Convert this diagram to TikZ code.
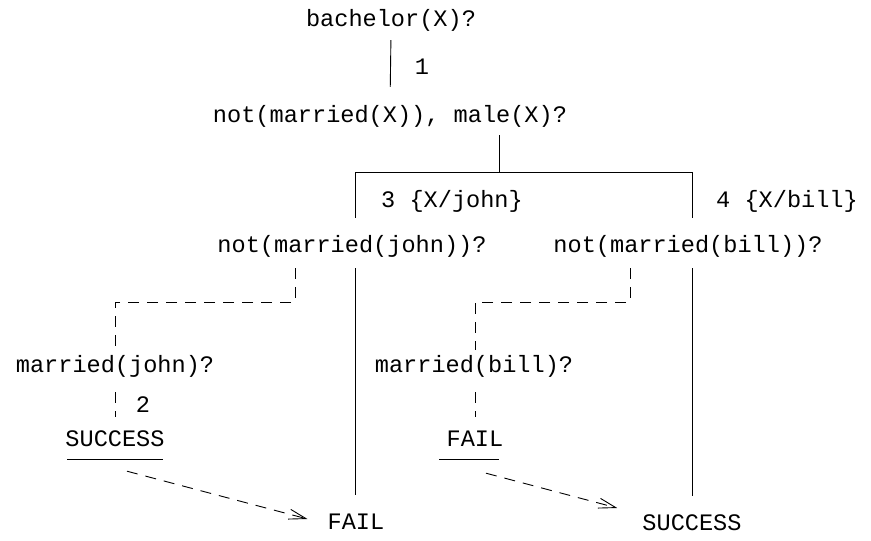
\documentclass[tikz,border=0pt]{standalone}
\usepackage{fontspec}
\setmainfont{Liberation Mono}
\usetikzlibrary{arrows.meta,calc}
\begin{document}
\begin{tikzpicture}[x=1pt,y=1pt,
  lbl/.style={inner sep=0pt,text height=16pt,text depth=7pt,font=\fontsize{23.6}{27}\selectfont},
  ln/.style={line width=0.9pt},
  dsh/.style={line width=0.9pt,dash pattern=on 11pt off 8pt},
  darr/.style={dsh,-{Straight Barb[length=17pt,width=10pt]}}]
\useasboundingbox (0,0) rectangle (871,541);
% nodes
\node[lbl] (bach) at (391,519) {bachelor(X)?};
\node[lbl] (l1) at (422,471) {1};
\node[lbl] (nm) at (390,423) {not(married(X)), male(X)?};
\node[lbl,anchor=west] (l3) at (381,338) {3 \{X/john\}};
\node[lbl,anchor=west] (l4) at (716,338) {4 \{X/bill\}};
\node[lbl] (nmj) at (352,293) {not(married(john))?};
\node[lbl] (nmb) at (688,293) {not(married(bill))?};
\node[lbl] (mj) at (115,173) {married(john)?};
\node[lbl] (l2) at (143,133) {2};
\node[lbl] (succ1) at (115,99) {SUCCESS};
\node[lbl] (mb) at (474,173) {married(bill)?};
\node[lbl] (fail1) at (475,99) {FAIL};
\node[lbl] (fail2) at (356,16) {FAIL};
\node[lbl] (succ2) at (692,15) {SUCCESS};
\coordinate (j) at (499,369);
\coordinate (jl) at (355,369);
\coordinate (jr) at (692,369);
% solid connectors
\draw[ln,shorten <=6.5pt,shorten >=19.5pt] (bach.south) -- (nm.north);
\draw[ln,shorten <=5.5pt] (j |- nm.south) -- (j);
\draw[ln,shorten <=18.5pt] (jl |- nmj.north) -- (jl) -- (jr) -- (jr |- nmb.north)
  [shorten >=18.5pt];
\draw[ln,shorten <=8.5pt,shorten >=18.5pt] (jl |- nmj.south) -- (jl |- fail2.north);
\draw[ln,shorten <=8.5pt,shorten >=18.5pt] (succ2 |- nmb.south) -- (succ2.north);
% dashed connectors
\draw[dsh] ($(nmj.south)+(-57,-8.5)$) -- ++(0,-34) -| ($(mj.north)+(0,6.5)$);
\draw[dsh] ($(mj.south)+(0,-12.5)$) -- ($(succ1.north)+(0,13.5)$);
\draw[dsh] ($(nmb.south)+(-58,-8.5)$) -- ++(0,-34) -| ($(mb.north)+(1,6.5)$);
\draw[dsh] ($(mb.south)+(1,-12.5)$) -- ($(fail1.north)+(0,13.5)$);
% underlines
\draw[ln] ($(succ1.south)+(-48,-6)$) -- ($(succ1.south)+(48,-6)$);
\draw[ln] ($(fail1.south)+(-36,-6)$) -- ($(fail1.south)+(24,-6)$);
% dashed arrows
\draw[darr] ($(succ1.south)+(12,-17.5)$) -- ($(fail2.west)+(-20,6)$);
\draw[darr] ($(fail1.south)+(11,-19.5)$) -- ($(succ2.west)+(-25,18)$);
\end{tikzpicture}
\end{document}
